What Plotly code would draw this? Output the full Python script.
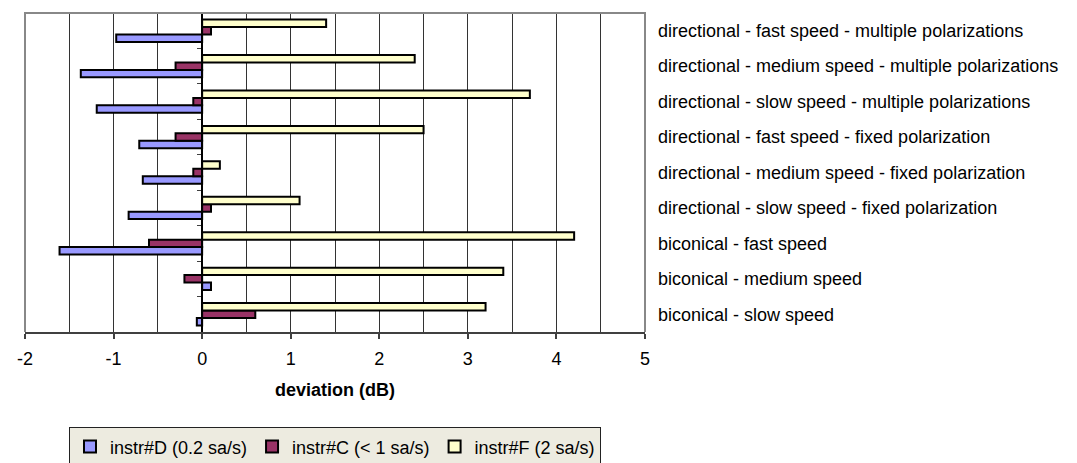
import plotly.graph_objects as go

# categories listed bottom -> top
categories = [
    "biconical - slow speed",
    "biconical - medium speed",
    "biconical - fast speed",
    "directional - slow speed - fixed polarization",
    "directional - medium speed - fixed polarization",
    "directional - fast speed - fixed polarization",
    "directional - slow speed - multiple polarizations",
    "directional - medium speed - multiple polarizations",
    "directional - fast speed - multiple polarizations",
]
instr_D = [-0.06, 0.1, -1.61, -0.83, -0.67, -0.71, -1.19, -1.37, -0.97]
instr_C = [0.6, -0.2, -0.6, 0.1, -0.1, -0.3, -0.1, -0.3, 0.1]
instr_F = [3.2, 3.4, 4.2, 1.1, 0.2, 2.5, 3.7, 2.4, 1.4]
series_names = ["instr#D (0.2 sa/s)", "instr#C (< 1 sa/s)", "instr#F (2 sa/s)"]
series_colors = ["#9999FF", "#993366", "#FFFFCC"]
x_tickvals = [-2, -1, 0, 1, 2, 3, 4, 5]
x_ticktext = ["-2", "-1", "0", "1", "2", "3", "4", "5"]
x_range = [-2, 5]

FONT = "Liberation Sans, Arial, sans-serif"

fig = go.Figure()
for name, vals, col in zip(series_names, [instr_D, instr_C, instr_F], series_colors):
    fig.add_trace(go.Bar(
        y=categories, x=vals, orientation="h", name=name,
        marker=dict(color=col, line=dict(color="black", width=2)),
    ))

# invisible helper trace so the right-hand label axis is drawn
fig.add_trace(go.Scatter(
    x=[None] * len(categories), y=list(range(len(categories))), yaxis="y2",
    mode="markers", showlegend=False, hoverinfo="skip",
))

zero_pos = (0 - x_range[0]) / (x_range[1] - x_range[0])

fig.update_layout(
    width=1077, height=463,
    margin=dict(l=17, r=440, t=5, b=130),
    paper_bgcolor="white", plot_bgcolor="white",
    font=dict(family=FONT, size=18, color="black"),
    barmode="group", bargap=0.37, bargroupgap=0,
    xaxis=dict(
        range=x_range, tickmode="array", tickvals=x_tickvals, ticktext=x_ticktext,
        ticks="outside", ticklen=5, tickcolor="#404040", tickwidth=1.5,
        showline=True, linecolor="#404040", linewidth=2,
        showgrid=True, gridcolor="#333333", gridwidth=1,
        minor=dict(dtick=0.5, tick0=0, showgrid=True, gridcolor="#333333", gridwidth=1),
        zeroline=True, zerolinecolor="black", zerolinewidth=1.5,
        title=dict(text="<b>deviation (dB)</b>", font=dict(size=18), standoff=16),
        tickfont=dict(size=18), ticklabelstandoff=4, automargin=False,
    ),
    yaxis=dict(
        type="category", categoryorder="array", categoryarray=categories,
        anchor="free", position=zero_pos, side="left",
        ticks="outside", tickson="boundaries", ticklen=4, tickcolor="#404040",
        showticklabels=False, showline=True, linecolor="black", linewidth=1.5,
        showgrid=False, zeroline=False, automargin=False,
    ),
    yaxis2=dict(
        overlaying="y", side="right", anchor="x",
        range=[-0.5, len(categories) - 0.5],
        tickmode="array", tickvals=list(range(len(categories))), ticktext=categories,
        ticks="", showgrid=False, zeroline=False, showline=False,
        tickfont=dict(size=18), ticklabelstandoff=12, automargin=False,
    ),
    legend=dict(
        orientation="h", x=0.5, xanchor="center", y=-0.2988, yanchor="top",
        bgcolor="#EDEBE0", bordercolor="#222222", borderwidth=1,
        font=dict(size=18), itemwidth=30, traceorder="normal",
    ),
    shapes=[dict(
        type="path", xref="paper", yref="paper",
        path="M0,0 L0,1 L1,1 L1,0", line=dict(color="#888888", width=2),
        layer="above",
    )],
)

fig.write_html("out.html")
